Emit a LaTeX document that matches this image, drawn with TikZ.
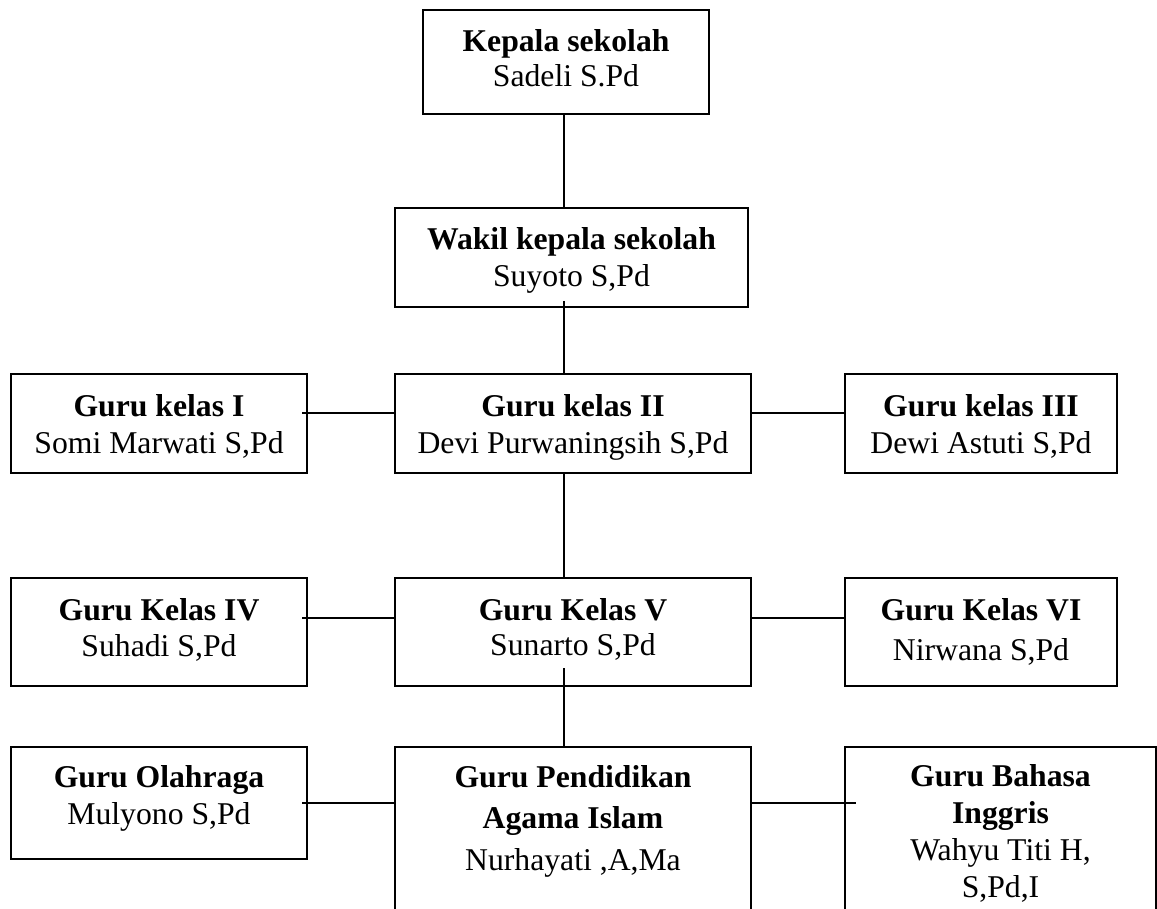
\documentclass[tikz,border=0pt]{standalone}
\usepackage{fontspec}
\setmainfont{Liberation Serif}
\usetikzlibrary{calc}
\begin{document}
\begin{tikzpicture}[x=1pt,y=-1pt,
  box/.style={draw, line width=2pt, inner sep=0pt},
  txt/.style={align=center, inner sep=0pt, anchor=base, font=\fontsize{31.7}{#1}\selectfont},
  txt/.default=36.5,
  link/.style={line width=1.9pt}]
\useasboundingbox (0,0) rectangle (1157,909);
\clip (0,0) rectangle (1157,909);
% boxes
\node[box, minimum width=286pt, minimum height=104pt] (kep) at (566,62) {};
\node[box, minimum width=353pt, minimum height=99pt] (wak) at (571.5,257.5) {};
\node[box, minimum width=296pt, minimum height=99pt] (g1) at (159,423.5) {};
\node[box, minimum width=356pt, minimum height=99pt] (g2) at (573,423.5) {};
\node[box, minimum width=272pt, minimum height=99pt] (g3) at (981,423.5) {};
\node[box, minimum width=296pt, minimum height=108pt] (g4) at (159,632) {};
\node[box, minimum width=356pt, minimum height=108pt] (g5) at (573,632) {};
\node[box, minimum width=272pt, minimum height=108pt] (g6) at (981,632) {};
\node[box, minimum width=296pt, minimum height=112pt] (g7) at (159,803) {};
\node[box, minimum width=356pt, minimum height=180pt] (g8) at (573,837) {};
\node[box, minimum width=311pt, minimum height=180pt] (g9) at (1000.5,837) {};
% texts (anchored at the baseline of the last line)
\node[txt=35] (kept) at (566,87) {\textbf{Kepala sekolah}\\Sadeli S.Pd};
\node[txt=37] (wakt) at (571.5,287) {\textbf{Wakil kepala sekolah}\\Suyoto S,Pd};
\node[txt=37] (g1t) at (159,453) {\textbf{Guru kelas I}\\Somi Marwati S,Pd};
\node[txt=37] (g2t) at (573,453) {\textbf{Guru kelas II}\\Devi Purwaningsih S,Pd};
\node[txt=37] (g3t) at (981,453) {\textbf{Guru kelas III}\\Dewi Astuti S,Pd};
\node[txt=36] (g4t) at (159,656) {\textbf{Guru Kelas IV}\\Suhadi S,Pd};
\node[txt=35.5] (g5t) at (573,655.5) {\textbf{Guru Kelas V}\\Sunarto S,Pd};
\node[txt=40] (g6t) at (981,660) {\textbf{Guru Kelas VI}\\Nirwana S,Pd};
\node[txt=37] (g7t) at (159,824) {\textbf{Guru Olahraga}\\Mulyono S,Pd};
\node[txt=41.5] (g8t) at (573,870) {\textbf{Guru Pendidikan}\\\textbf{Agama Islam}\\Nurhayati ,A,Ma};
\node[txt=36.7] (g9t) at (1000.5,897) {\textbf{Guru Bahasa}\\\textbf{Inggris}\\Wahyu Titi H,\\S,Pd,I};
% connectors
\draw[link] ($(kep.south)+(-2,0)$) -- ($(kep.south |- wak.north)+(-2,0)$);
\draw[link] ($(wak.south)+(-7.5,-7)$) -- ($(wak.south |- g2.north)+(-7.5,0)$);
\draw[link] ($(g1.east)+(-6,-10.5)$) -- ($(g2.west)+(0,-10.5)$);
\draw[link] ($(g2.east)+(0,-10.5)$) -- ($(g3.west)+(0,-10.5)$);
\draw[link] ($(g2.south)+(-9,0)$) -- ($(g2.south |- g5.north)+(-9,0)$);
\draw[link] ($(g4.east)+(-6,-14)$) -- ($(g5.west)+(0,-14)$);
\draw[link] ($(g5.east)+(0,-14)$) -- ($(g6.west)+(0,-14)$);
\draw[link] ($(g5.south)+(-9,-19)$) -- ($(g5.south |- g8.north)+(-9,0)$);
\draw[link] ($(g7.east)+(-6,0)$) -- (g7.east -| g8.west);
\draw[link] ($(g8.east)+(0,-34)$) -- ($(g8.east -| g9.west)+(12,-34)$);
\end{tikzpicture}
\end{document}
